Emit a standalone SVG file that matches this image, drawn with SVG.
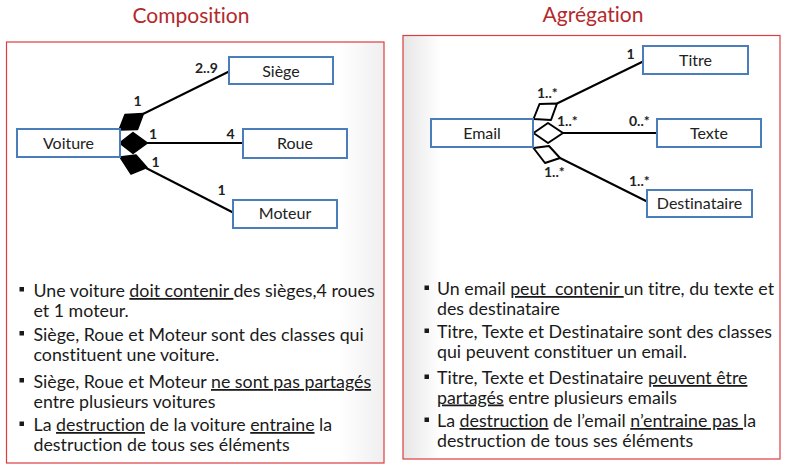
<svg xmlns="http://www.w3.org/2000/svg" width="788" height="475" viewBox="0 0 788 475">
<defs>
<linearGradient id="gl" x1="0" y1="0" x2="1" y2="0">
<stop offset="0" stop-color="#ffffff"/>
<stop offset="0.88" stop-color="#ffffff"/>
<stop offset="1" stop-color="#efefef"/>
</linearGradient>
<linearGradient id="gr" x1="0" y1="0" x2="1" y2="0">
<stop offset="0" stop-color="#e6e6e6"/>
<stop offset="0.1" stop-color="#ffffff"/>
<stop offset="1" stop-color="#ffffff"/>
</linearGradient>
</defs>
<style>
text{font-variant-ligatures:none}
.panel{stroke:#dc3c42;stroke-width:1.2}
.title{font-family:Lato,"Liberation Sans",sans-serif;font-size:21px;fill:#b42a2c;text-anchor:middle}
.box{fill:#ffffff;stroke:#4a7ebb;stroke-width:2}
.nt{font-family:Lato,"Liberation Sans",sans-serif;font-size:16px;fill:#222;text-anchor:middle}
.ml{font-family:Lato,"Liberation Sans",sans-serif;font-size:14px;font-weight:bold;fill:#222}
.ln{stroke:#000;stroke-width:2;fill:none}
.dk{fill:#000;stroke:#000;stroke-width:1.5;stroke-linejoin:round}
.dw{fill:#fff;stroke:#000;stroke-width:2;stroke-linejoin:round}
.bt{font-family:Lato,"Liberation Sans",sans-serif;font-size:17.8px;fill:#1a1a1a}
.u{text-decoration:underline}
.bl{fill:#1a1a1a}
</style>
<rect width="788" height="475" fill="#ffffff"/>
<g id="panels">
<rect class="panel" x="6.5" y="42" width="377.5" height="421" fill="url(#gl)"/>
<rect class="panel" x="403" y="35.5" width="377" height="423.5" fill="url(#gr)"/>
<text class="title" x="191" y="23">Composition</text>
<text class="title" x="593" y="22">Agrégation</text>
</g>
<g id="connectors">
<line class="ln" x1="143" y1="114" x2="229" y2="71.5"/>
<line class="ln" x1="147" y1="143" x2="243" y2="143"/>
<line class="ln" x1="146" y1="168" x2="233" y2="212.5"/>
<polygon class="dk" points="119,130 125,114.5 143.5,113.5 137.5,129.5"/>
<polygon class="dk" points="119.5,143 133,132.5 147.5,143 133,153.5"/>
<polygon class="dk" points="120,157 136,155 147,167.5 131,174"/>
<line class="ln" x1="557" y1="103.5" x2="643" y2="61.5"/>
<line class="ln" x1="563" y1="133" x2="657" y2="133"/>
<line class="ln" x1="560" y1="158" x2="648" y2="202"/>
<polygon class="dw" points="533.5,119 539.5,104 557,103.5 551,120"/>
<polygon class="dw" points="533.5,133 548,123 563,133 548,143"/>
<polygon class="dw" points="533.5,148 549,146 560,158 545,163"/>
<text class="ml" x="195" y="73">2..9</text>
<text class="ml" x="133.5" y="106">1</text>
<text class="ml" x="149" y="139">1</text>
<text class="ml" x="226.5" y="139">4</text>
<text class="ml" x="151.5" y="167">1</text>
<text class="ml" x="217.5" y="195">1</text>
<text class="ml" x="626.5" y="59">1</text>
<text class="ml" x="537" y="98">1..*</text>
<text class="ml" x="557" y="126">1..*</text>
<text class="ml" x="629" y="126">0..*</text>
<text class="ml" x="544" y="177">1..*</text>
<text class="ml" x="629" y="186">1..*</text>
</g>
<g id="node-voiture"><rect class="box" x="17" y="129" width="103" height="28"/><text class="nt" x="68.5" y="148.5">Voiture</text></g>
<g id="node-siege"><rect class="box" x="229" y="57" width="104" height="27"/><text class="nt" x="281" y="76.5">Siège</text></g>
<g id="node-roue"><rect class="box" x="243" y="129" width="104" height="29"/><text class="nt" x="295" y="148.5">Roue</text></g>
<g id="node-moteur"><rect class="box" x="233" y="200" width="104" height="28"/><text class="nt" x="285" y="219">Moteur</text></g>
<g id="node-email"><rect class="box" x="431" y="119" width="102" height="28"/><text class="nt" x="482" y="138.5">Email</text></g>
<g id="node-titre"><rect class="box" x="643" y="46" width="105" height="28"/><text class="nt" x="695.5" y="65.5">Titre</text></g>
<g id="node-texte"><rect class="box" x="657" y="119" width="104" height="28"/><text class="nt" x="709" y="138.5">Texte</text></g>
<g id="node-destinataire"><rect class="box" x="647" y="190" width="105" height="27"/><text class="nt" x="699.5" y="209">Destinataire</text></g>
<g id="text-composition">
<rect class="bl" x="19.5" y="287" width="4.5" height="4.5"/>
<rect class="bl" x="19.5" y="331" width="4.5" height="4.5"/>
<rect class="bl" x="19.5" y="378" width="4.5" height="4.5"/>
<rect class="bl" x="19.5" y="421.5" width="4.5" height="4.5"/>
<text class="bt" x="33.5" y="297">Une voiture <tspan class="u">doit contenir </tspan>des sièges,4 roues</text>
<text class="bt" x="33.5" y="317">et 1 moteur.</text>
<text class="bt" x="33.5" y="341">Siège, Roue et Moteur sont des classes qui</text>
<text class="bt" x="33.5" y="361">constituent une voiture.</text>
<text class="bt" x="33.5" y="388">Siège, Roue et Moteur <tspan class="u">ne sont pas partagés</tspan></text>
<text class="bt" x="33.5" y="408">entre plusieurs voitures</text>
<text class="bt" x="33.5" y="431">La <tspan class="u">destruction</tspan> de la voiture <tspan class="u">entraine</tspan> la</text>
<text class="bt" x="33.5" y="451">destruction de tous ses éléments</text>
</g>
<g id="text-agregation">
<rect class="bl" x="424.5" y="285.5" width="4.5" height="4.5"/>
<rect class="bl" x="424.5" y="328.5" width="4.5" height="4.5"/>
<rect class="bl" x="424.5" y="374.5" width="4.5" height="4.5"/>
<rect class="bl" x="424.5" y="417.5" width="4.5" height="4.5"/>
<text class="bt" x="437" y="295">Un email <tspan class="u">peut&#160; contenir </tspan>un titre, du texte et</text>
<text class="bt" x="437" y="315">des destinataire</text>
<text class="bt" x="437" y="338">Titre, Texte et Destinataire sont des classes</text>
<text class="bt" x="437" y="357.5">qui peuvent constituer un email.</text>
<text class="bt" x="437" y="384">Titre, Texte et Destinataire <tspan class="u">peuvent être</tspan></text>
<text class="bt" x="437" y="403.5"><tspan class="u">partagés</tspan> entre plusieurs emails</text>
<text class="bt" x="437" y="427">La <tspan class="u">destruction</tspan> de l’email <tspan class="u">n’entraine pas </tspan>la</text>
<text class="bt" x="437" y="446.5">destruction de tous ses éléments</text>
</g>
</svg>
